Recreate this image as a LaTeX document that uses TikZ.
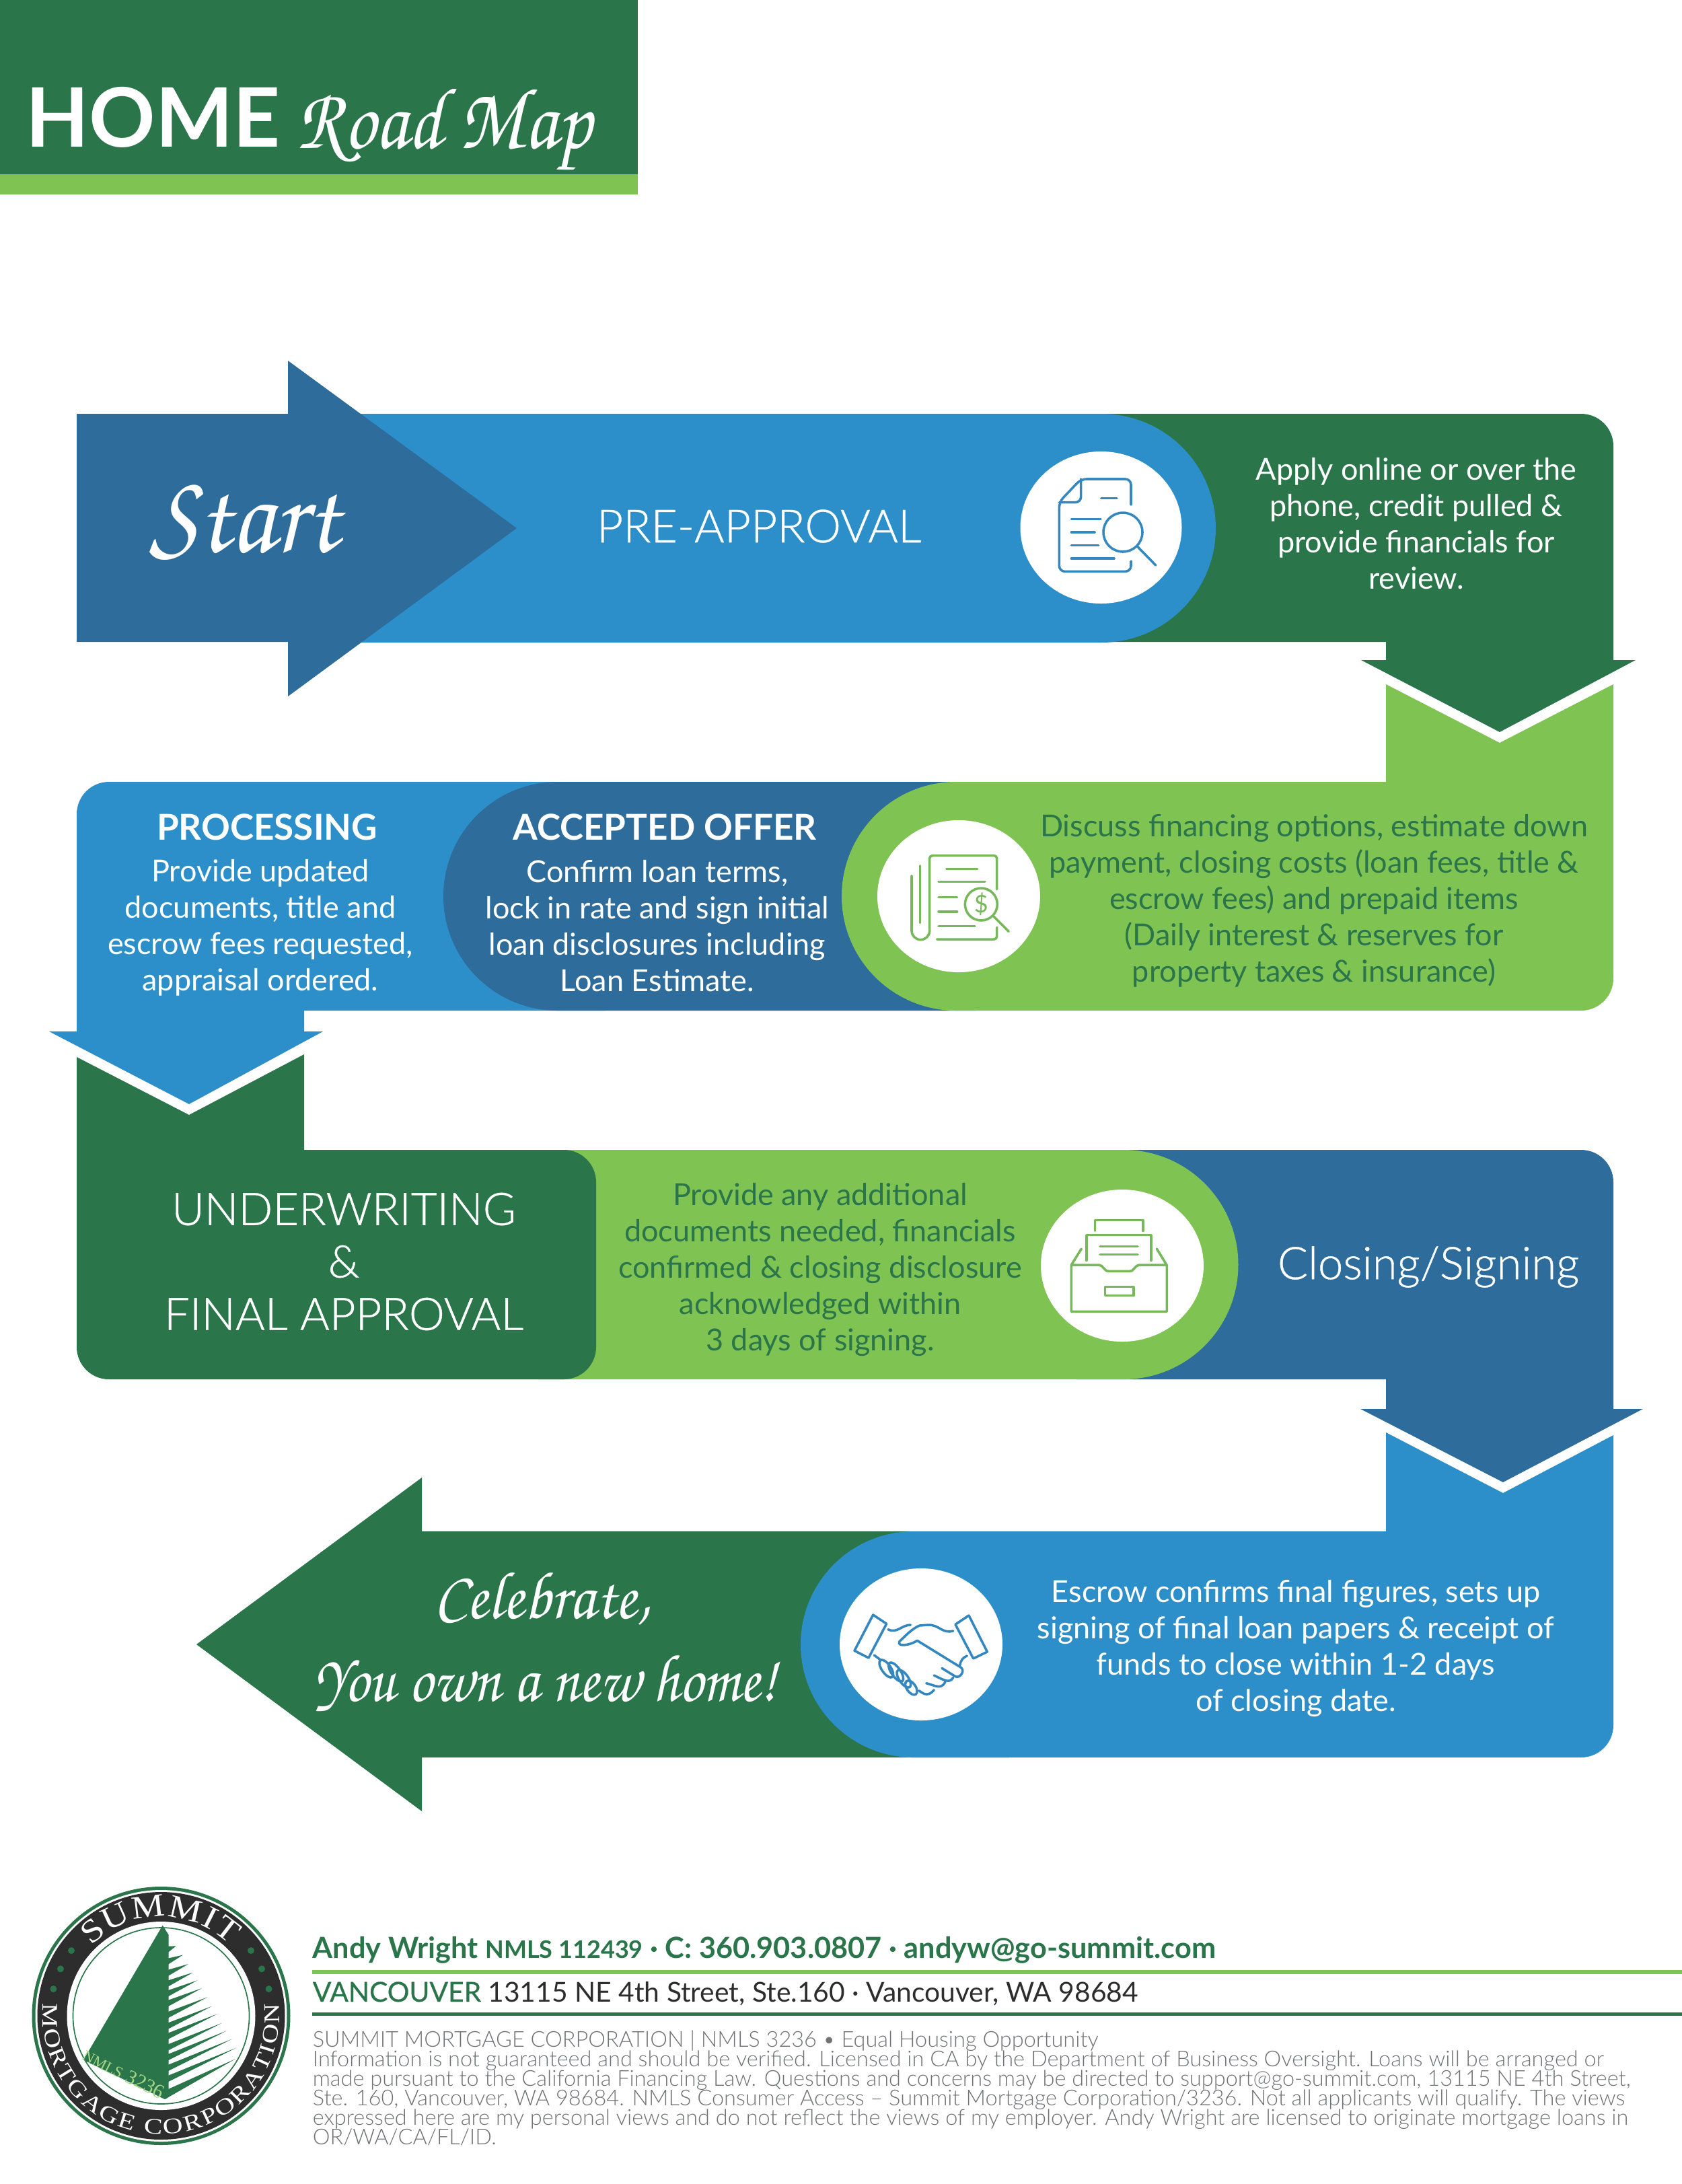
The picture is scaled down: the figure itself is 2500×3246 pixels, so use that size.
\documentclass[tikz,border=0pt]{standalone}
\usepackage[T1,TU]{fontenc}
\usepackage{fontspec}
\usetikzlibrary{decorations.text}
\setmainfont{Lato}
\newfontfamily\lightfont{Lato Light}
\newfontfamily\titlefont{Lato Light}[FakeBold=0.6]
\newfontfamily\medfont{Lato}[FakeBold=0.5]
\newfontfamily\serifseal{Liberation Serif}
\newfontfamily\serifsealA{Liberation Serif}[FakeStretch=1.15]
\newfontfamily\serifsealB{Liberation Serif}[FakeStretch=1.25]
\newcommand{\fs}[2]{\fontsize{\fpeval{#1*.24}pt}{\fpeval{#2*.24}pt}\selectfont\lineskiplimit=-100pt\relax}
\newcommand{\scrfont}{\usefont{T1}{pzc}{mb}{it}}
\newcommand{\sealA}{\serifsealA\fs{48}{48}\color{white}}
\newcommand{\sealB}{\serifsealB\fs{33}{33}\color{white}}
\definecolor{gd}{HTML}{2A7549}
\definecolor{lg}{HTML}{7FC353}
\definecolor{bl}{HTML}{2C8FC9}
\definecolor{db}{HTML}{2D6C9B}
\definecolor{char}{HTML}{2E2D2D}
\definecolor{icong}{HTML}{76B85A}
\definecolor{iconb}{HTML}{3487BF}
\definecolor{fine}{HTML}{707275}
\tikzset{
  body/.style={inner sep=0pt,align=center,font=\fs{45}{54}},
  title/.style={inner sep=0pt,align=center,font=\fs{67}{78}\titlefont,text=white},
  head/.style={inner sep=0pt,font=\fs{53}{60}\bfseries},
  scr/.style={inner sep=0pt,font=\fs{100}{100}\scrfont,text=white},
  icon/.style={line width=.85pt,line cap=round,line join=round},
  disc/.style={fill=white}
}
\begin{document}
\begin{tikzpicture}[x=.24pt,y=-.24pt]
\useasboundingbox (0,0) rectangle (2500,3246);
\fill[white] (0,0) rectangle (2500,3246);
% header
\fill[gd] (0,0) rectangle (948,259);
\fill[lg] (0,259) rectangle (948,289);
\node[anchor=base west,inner sep=0pt,text=white,font=\fs{122}{122}\bfseries] (homeword) at (38,218) {HOME};
\node[anchor=base west,scr,font=\fs{130}{130}\scrfont,xscale=.89] (roadmap) at (441,220) {Road Map};

% row 1
\fill[gd] (1500,615) -- (2350,615) arc[start angle=-90,end angle=0,radius=48] -- (2398,981) -- (2431,981) -- (2229,1088) -- (2023,981) -- (2060,981) -- (2060,954) -- (1500,954) -- cycle;
\fill[bl] (500,615) -- (1637,615) arc[start angle=-90,end angle=90,radius=170] -- (500,955) -- cycle;
\fill[db] (114,615) -- (428,615) -- (428,536) -- (768,785) -- (428,1035) -- (428,954) -- (114,954) -- cycle;
\fill[disc] (1636.5,784) ellipse[x radius=120,y radius=113];
\begin{scope}[shift={(1480,640)},x=.08pt,y=-.08pt,iconb,icon]
\draw[rounded corners=2pt] (603,330) -- (603,216) -- (380,216) -- (283,318) -- (283,628) -- (603,628) -- (603,582);
\draw[rounded corners=2pt] (380,216) -- (380,320) -- (283,320);
\draw (470,302) -- (540,302) (337,395) -- (468,395) (337,453) -- (441,453) (337,511) -- (458,511) (337,570) -- (528,570);
\draw (567,453) circle[radius=87];
\draw (630,515) -- (713,600);
\end{scope}
\node[anchor=base,scr,font=\fs{170}{170}\scrfont,xscale=.91] (startword) at (363,820) {Start};
\node[title,font=\fs{68}{68}\titlefont] (preapp) at (1128,782) {PRE-APPROVAL};
\node[body,text=white] (applytext) at (2105,778) {Apply online or over the\\phone, credit pulled \&\\provide financials for\\review.};

% row 2
\fill[bl] (162,1162) -- (900,1162) -- (900,1502) -- (452,1502) -- (452,1533) -- (480,1533) -- (281,1641) -- (73,1533) -- (114,1533) -- (114,1210) arc[start angle=180,end angle=270,radius=48] -- cycle;
\fill[db] (829,1162) -- (1450,1162) -- (1450,1502) -- (829,1502) arc[start angle=90,end angle=270,radius=170] -- cycle;
\fill[lg] (1421,1162) -- (2060,1162) -- (2060,1017) -- (2229,1104) -- (2398,1017) -- (2398,1454) arc[start angle=0,end angle=90,radius=48] -- (1421,1502) arc[start angle=90,end angle=270,radius=170] -- cycle;
\fill[disc] (1425,1332) ellipse[x radius=121,y radius=113];
\begin{scope}[shift={(1280,1220)},x=.08pt,y=-.08pt,icong,icon]
\draw[rounded corners=1pt] (605,305) -- (605,155) -- (305,155) -- (305,490);
\draw (225,245) -- (225,490) arc[start angle=180,end angle=0,radius=40];
\draw (263,200) -- (263,455);
\draw (380,215) -- (518,215) (345,272) -- (552,272) (345,340) -- (428,340) (345,405) -- (428,405) (345,470) -- (507,470);
\draw[rounded corners=1pt] (338,528) -- (605,528) -- (605,475);
\draw (535,372) circle[radius=72];
\draw (590,425) -- (658,493);
\node[inner sep=0pt,font=\fs{36}{36},text=icong] (dollar) at (535,372) {\$};
\end{scope}
\node[head,text=white] (processing) at (397,1229) {PROCESSING};
\node[body,text=white] (proctext) at (387,1379) {Provide updated\\documents, title and\\escrow fees requested,\\appraisal ordered.};
\node[head,text=white] (accepted) at (988,1229) {ACCEPTED OFFER};
\node[body,text=white] (accepttext) at (977,1376) {Confirm loan terms,\\lock in rate and sign initial\\loan disclosures including\\Loan Estimate.};
\node[body,text=gd] (discuss) at (1953,1339) {Discuss financing options, estimate down\\payment, closing costs (loan fees, title \&\\escrow fees) and prepaid items\\(Daily interest \& reserves for\\property taxes \& insurance)};

% row 3
\fill[db] (1600,1709) -- (2350,1709) arc[start angle=-90,end angle=0,radius=48] -- (2398,2094) -- (2442,2094) -- (2234,2203) -- (2022,2094) -- (2060,2094) -- (2060,2050) -- (1600,2050) -- cycle;
\fill[lg] (800,1709) -- (1670,1709) arc[start angle=-90,end angle=90,radius=170.5] -- (800,2050) -- cycle;
\fill[gd] (114,1571) -- (281,1657) -- (452,1567) -- (452,1709) -- (838,1709) arc[start angle=-90,end angle=0,radius=48] -- (886,2002) arc[start angle=0,end angle=90,radius=48] -- (162,2050) arc[start angle=90,end angle=180,radius=48] -- cycle;
\fill[disc] (1668,1881) ellipse[x radius=121,y radius=113];
\begin{scope}[shift={(1530,1770)},x=.08pt,y=-.08pt,icong,icon]
\draw (292,178) -- (292,130) -- (507,130) -- (507,178);
\draw (255,310) -- (255,197) -- (543,197) -- (543,310);
\draw (315,247) -- (483,247) (315,284) -- (483,284);
\draw (187,330) -- (232,258) (568,258) -- (612,330);
\draw (187,330) -- (187,538) -- (613,538) -- (613,330) -- (490,330) .. controls (470,330) and (470,358) .. (445,358) -- (355,358) .. controls (330,358) and (330,330) .. (310,330) -- cycle;
\draw (337,428) rectangle (465,467);
\end{scope}
\node[title] (underwriting) at (511,1875) {UNDERWRITING\\\&\\FINAL APPROVAL};
\node[body,text=gd] (provide) at (1219,1887) {Provide any additional\\documents needed, financials\\confirmed \& closing disclosure\\acknowledged within\\3 days of signing.};
\node[title] (closing) at (2123,1883) {Closing/Signing};

% row 4
\fill[gd] (627,2276) -- (627,2196) -- (292,2444) -- (627,2692) -- (627,2612) -- (1500,2612) -- (1500,2276) -- cycle;
\fill[bl] (1358,2276) -- (2060,2276) -- (2060,2129) -- (2234,2219) -- (2398,2133) -- (2398,2564) arc[start angle=0,end angle=90,radius=48] -- (1358,2612) arc[start angle=90,end angle=270,radius=168] -- cycle;
\fill[disc] (1369,2444) ellipse[x radius=121,y radius=113];
\begin{scope}[shift={(1230,2320)},x=.08pt,y=-.08pt,iconb,icon]
\draw (203,240) -- (263,280) -- (183,432) -- (120,400) -- cycle;
\draw (630,243) -- (570,283) -- (650,435) -- (712,405) -- cycle;
\draw (270,305) .. controls (310,325) and (330,285) .. (370,285);
\draw (208,420) -- (235,440);
\draw (560,312) .. controls (510,325) and (500,285) .. (450,285) -- (410,288) .. controls (380,300) and (350,330) .. (320,360) .. controls (310,385) and (370,375) .. (400,355) -- (595,475) .. controls (615,490) and (590,525) .. (570,515) -- (510,478);
\draw (560,520) .. controls (545,545) and (525,535) .. (475,510);
\draw (525,540) .. controls (505,575) and (480,555) .. (440,545);
\draw (475,575) .. controls (450,605) and (430,595) .. (408,578);
\draw (590,465) .. controls (595,440) and (605,430) .. (622,423);
\draw[rotate around={35:(262,480)}] (262,480) ellipse[x radius=20,y radius=46];
\draw[rotate around={35:(305,495)}] (305,495) ellipse[x radius=20,y radius=50];
\draw[rotate around={35:(340,525)}] (340,525) ellipse[x radius=20,y radius=46];
\draw[rotate around={35:(373,565)}] (373,565) ellipse[x radius=20,y radius=36];
\end{scope}
\node[body,text=white] (escrow) at (1926,2450) {Escrow confirms final figures, sets up\\signing of final loan papers \& receipt of\\funds to close within 1-2 days\\of closing date.};
\node[anchor=base,scr,font=\fs{100}{100}\scrfont,xscale=.93] (celebrate) at (806,2405) {Celebrate,};
\node[anchor=base,scr,font=\fs{100}{100}\scrfont,xscale=.885] (ownhome) at (811,2528) {You own a new home!};

% seal
\begin{scope}[shift={(239.5,2996)},x=.24pt,y=.24pt]
\fill[gd] (0,0) circle[radius=192];
\fill[white] (0,0) circle[radius=187];
\fill[char] (0,0) circle[radius=184];
\fill[white] (0,0) circle[radius=140];
\draw[gd,line width=.4pt] (0,0) circle[radius=131];
\path[decorate,decoration={text along path,text={|\sealA|SUMMIT},text align={fit to path}}] (135:147) arc[start angle=135,end angle=46,radius=147];
\path[decorate,decoration={text along path,text={|\sealB|MORTGAGE CORPORATION},text align={fit to path}}] (174:176) arc[start angle=174,end angle=366,radius=176];
\foreach \a in {144,155,166,36,25,14}{\fill[gd] (\a:165) circle[radius=5];}
\end{scope}
\begin{scope}[shift={(0,2760)},x=.08pt,y=-.08pt]
\fill[gd] (725,305) -- (372,905) -- (735,1080) -- (752,1070) -- (752,347) -- cycle;
\foreach \ex/\ey in {785/397,815/437,840/477,860/515,880/550,900/585,925/625,945/665,968/700,990/740,1010/775,1033/812,1055/850}{
  \pgfmathsetmacro\ly{\ey+.46*(\ex-750)}
  \fill[gd] (748,\ly-15) -- (\ex,\ey) -- (748,\ly+13) -- cycle;
}
\fill[gd] (735,1080) -- (1050,900) -- (750,1035) -- cycle;
\node[inner sep=0pt,rotate=-27,font=\serifseal\fs{30}{30},text=lg!70!white] (nmlsmark) at (552,965) {{\fs{23}{23}NMLS} 3236};
\end{scope}

% footer
\node[anchor=base west,inner sep=0pt,text=gd,font=\fs{43.3}{46}\bfseries] (contact) at (464,2910) {Andy Wright {\fs{36}{38}NMLS 112439} · C: 360.903.0807 · andyw@go-summit.com};
\coordinate (ruleAa) at (464,2931);
\coordinate (ruleAb) at (2500,2931);
\draw[lg,line width=1.4pt] (ruleAa) -- (ruleAb);
\node[anchor=base west,inner sep=0pt,text=char,font=\fs{40.8}{43}] (office) at (464,2975) {\textcolor{gd}{\medfont VANCOUVER} 13115 NE 4th Street, Ste.160 · Vancouver, WA 98684};
\coordinate (ruleBa) at (464,2993);
\coordinate (ruleBb) at (2500,2993);
\draw[gd,line width=1.2pt] (ruleBa) -- (ruleBb);
\node[anchor=north west,inner sep=0pt,align=left,text=fine,font=\fs{32.5}{29}\lightfont] (legal) at (464,3017) {SUMMIT MORTGAGE CORPORATION | NMLS 3236 • Equal Housing Opportunity\\
Information is not guaranteed and should be verified. Licensed in CA by the Department of Business Oversight. Loans will be arranged or\\
made pursuant to the California Financing Law. Questions and concerns may be directed to support@go-summit.com, 13115 NE 4th Street,\\
Ste. 160, Vancouver, WA 98684. NMLS Consumer Access – Summit Mortgage Corporation/3236. Not all applicants will qualify. The views\\
expressed here are my personal views and do not reflect the views of my employer. Andy Wright are licensed to originate mortgage loans in\\
OR/WA/CA/FL/ID.};
\end{tikzpicture}
\end{document}
